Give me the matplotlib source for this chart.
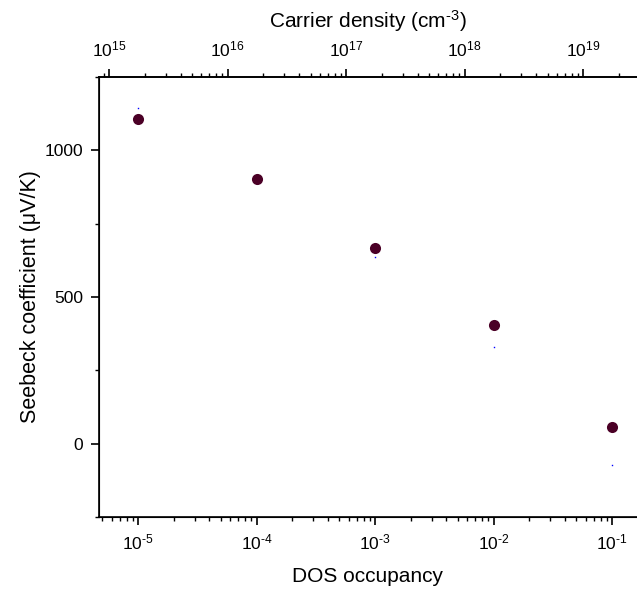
import matplotlib
matplotlib.use("Agg")
import math
import matplotlib.pyplot as plt
from matplotlib.ticker import LogLocator, MultipleLocator, NullFormatter, FuncFormatter

plt.rcParams['font.family'] = ['Liberation Sans', 'DejaVu Sans']
plt.rcParams['mathtext.fontset'] = 'custom'
plt.rcParams['mathtext.rm'] = 'Liberation Sans'
plt.rcParams['mathtext.it'] = 'Liberation Sans:italic'
plt.rcParams['mathtext.bf'] = 'Liberation Sans:bold'

occupancy = [1e-5, 1e-4, 1e-3, 1e-2, 1e-1]
seebeck = [1106, 901, 668, 404, 56]
seebeck_ref = [1143, 901, 635, 331, -72]
density_factor = 1.75e20


def pow_fmt(v, pos):
    e = int(round(math.log10(v)))
    return r'10$^{\text{%d}}$' % e


fig = plt.figure(figsize=(6.37, 5.95), dpi=100)
ax = fig.add_axes([98.6/637, 1-517/595, 1-98.6/637, (517-77)/595])

ax.plot(occupancy, seebeck_ref, linestyle='none', marker='s', markersize=1,
        color='#0000ff', markeredgewidth=0)
ax.plot(occupancy, seebeck, linestyle='none', marker='o', markersize=8,
        color='#4b0026', markeredgewidth=0)

ax.set_xscale('log')
xlo, xhi = 10**-5.333, 10**-0.789
ax.set_xlim(xlo, xhi)
ax.set_ylim(-250, 1250)
ax.yaxis.set_major_locator(MultipleLocator(500))
ax.yaxis.set_minor_locator(MultipleLocator(250))
ax.xaxis.set_major_locator(LogLocator(base=10, numticks=20))
ax.xaxis.set_major_formatter(FuncFormatter(pow_fmt))
ax.xaxis.set_minor_locator(LogLocator(base=10, subs=range(2, 10), numticks=20))
ax.xaxis.set_minor_formatter(NullFormatter())

ax.spines['right'].set_visible(False)
for s in ['left', 'bottom', 'top']:
    ax.spines[s].set_linewidth(1.2)

ax.tick_params(axis='both', which='major', direction='out', length=6, width=1.2,
               labelsize=12.5, pad=5)
ax.tick_params(axis='both', which='minor', direction='out', length=3, width=1.0)
ax.tick_params(axis='x', which='both', top=False)
ax.tick_params(axis='y', which='both', right=False)

ax.set_xlabel('DOS occupancy', fontsize=15, labelpad=11)
ax.set_ylabel('Seebeck coefficient (μV/K)', fontsize=15.5, labelpad=3)

ax2 = ax.twiny()
ax2.set_xscale('log')
ax2.set_xlim(xlo*density_factor, xhi*density_factor)
ax2.xaxis.set_major_locator(LogLocator(base=10, numticks=20))
ax2.xaxis.set_major_formatter(FuncFormatter(pow_fmt))
ax2.xaxis.set_minor_locator(LogLocator(base=10, subs=range(2, 10), numticks=20))
ax2.xaxis.set_minor_formatter(NullFormatter())
ax2.spines['right'].set_visible(False)
ax2.spines['top'].set_linewidth(1.2)
ax2.tick_params(axis='x', which='major', direction='out', length=6, width=1.2,
                labelsize=12.5, pad=7)
ax2.tick_params(axis='x', which='minor', direction='out', length=3, width=1.0)
ax2.set_xlabel(r'Carrier density (cm$^{\text{-3}}$)', fontsize=15, labelpad=8)

fig.savefig('out.png', dpi=100)
